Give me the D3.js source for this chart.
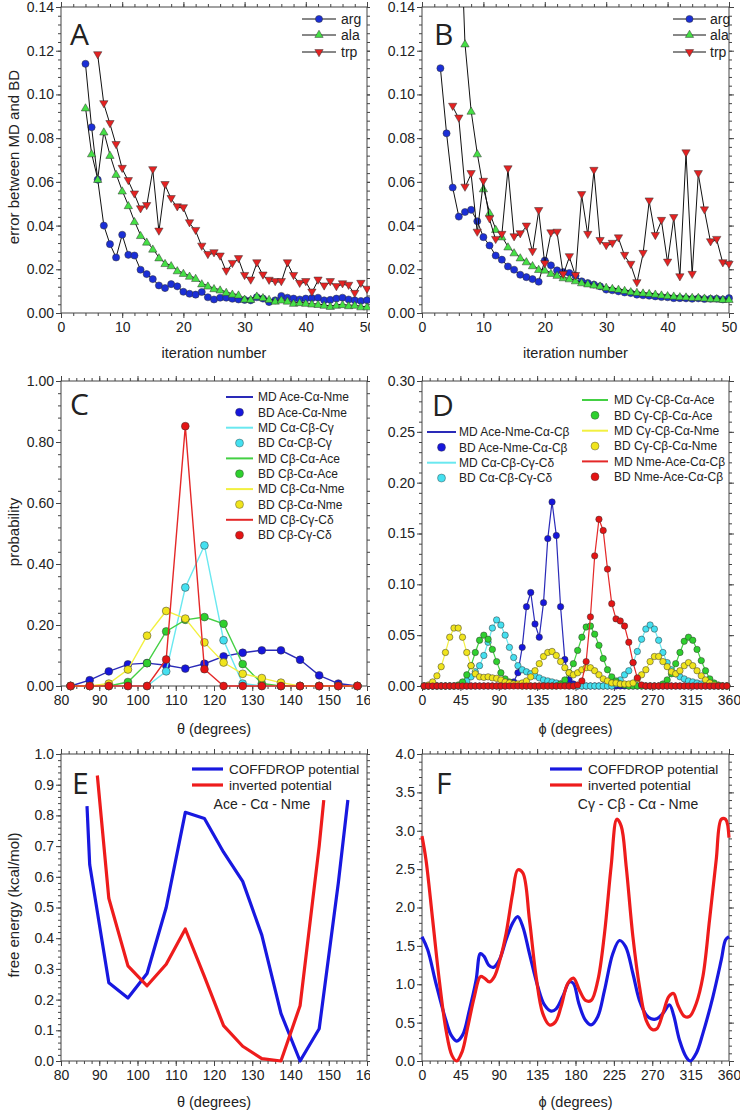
<!DOCTYPE html>
<html><head><meta charset="utf-8">
<script src="https://cdn.jsdelivr.net/npm/d3@7"></script>
<style>
body{margin:0;background:#fff}
svg{display:block}
text{font-family:"Liberation Sans",Arial,sans-serif;fill:#222}
</style>
</head><body>
<svg id="c" width="740" height="1112"></svg>
<script>
// ---------- Panel A / B : error vs iteration ----------
const iterTicks = [0, 10, 20, 30, 40, 50];
const errTicks = [0, 0.02, 0.04, 0.06, 0.08, 0.10, 0.12, 0.14];
const seriesNames = ["arg", "ala", "trp"];

const aArgStart = 4;
const aArg = [0.114,0.085,0.061,0.040,0.0315,0.0254,0.0358,0.0266,0.0263,0.0198,0.0178,0.0155,0.0126,0.0114,0.0132,0.0122,0.0097,0.0088,0.0084,0.0096,0.0072,0.0062,0.0070,0.0070,0.0065,0.0062,0.0060,0.0058,0.0072,0.0066,0.0050,0.0058,0.0078,0.0070,0.0066,0.0062,0.0066,0.0068,0.0070,0.0058,0.0060,0.0066,0.0070,0.0062,0.0058,0.0055,0.0058];
const aAlaStart = 4;
const aAla = [0.094,0.073,0.0613,0.083,0.0723,0.0636,0.056,0.0493,0.042,0.0356,0.0326,0.0294,0.0254,0.0228,0.0218,0.0195,0.0183,0.017,0.016,0.0135,0.0125,0.0113,0.0107,0.0096,0.0088,0.0084,0.0065,0.0064,0.0079,0.0072,0.0064,0.0056,0.0061,0.0056,0.0046,0.0049,0.0046,0.0043,0.0041,0.0037,0.0032,0.0037,0.004,0.0035,0.0037,0.003,0.003];
const aTrpStart = 6;
const aTrp = [0.118,0.0956,0.0865,0.0769,0.066,0.0604,0.0543,0.0475,0.049,0.0654,0.0373,0.0586,0.0522,0.0484,0.048,0.0411,0.0376,0.0304,0.0266,0.0274,0.0259,0.019,0.0225,0.0247,0.017,0.0149,0.0228,0.0172,0.0148,0.0142,0.0142,0.0228,0.017,0.0134,0.0142,0.0094,0.0149,0.0122,0.0142,0.0119,0.0132,0.0125,0.0088,0.0134,0.0107];

const bArgStart = 3;
const bArg = [0.112,0.0822,0.0574,0.0441,0.0462,0.0472,0.042,0.0347,0.0309,0.0263,0.0244,0.0213,0.0198,0.0175,0.0164,0.0155,0.0143,0.024,0.0218,0.0195,0.0187,0.0183,0.017,0.0145,0.0137,0.013,0.0122,0.0107,0.0104,0.0099,0.0094,0.0091,0.0084,0.0081,0.0079,0.0076,0.0073,0.0072,0.0068,0.0068,0.0067,0.0065,0.0067,0.0064,0.0065,0.0065,0.0062,0.0068];
const bAlaStart = 6;
const bAla = [0.20,0.1233,0.0925,0.073,0.057,0.046,0.0384,0.035,0.0304,0.0277,0.0254,0.0236,0.0218,0.0201,0.0198,0.0183,0.0174,0.0163,0.0158,0.0149,0.014,0.0135,0.013,0.0125,0.0119,0.0114,0.011,0.0105,0.0099,0.0096,0.0093,0.0091,0.0088,0.0084,0.0081,0.0079,0.0076,0.0075,0.0073,0.0073,0.007,0.0067,0.0067,0.0064,0.0064];
const bTrpStart = 5;
const bTrp = [0.0944,0.089,0.0574,0.0636,0.0368,0.0601,0.0429,0.0335,0.0358,0.0658,0.0347,0.0361,0.0396,0.0279,0.0467,0.0224,0.0365,0.0368,0.0175,0.0256,0.017,0.054,0.0358,0.0651,0.033,0.0307,0.0317,0.0342,0.0262,0.0221,0.0137,0.0271,0.0511,0.0353,0.0422,0.0231,0.0435,0.0164,0.0731,0.0175,0.0636,0.047,0.0324,0.0335,0.0228,0.0221];

// ---------- Panel C : bond angle distributions ----------
const thetaBins = [82.5,87.5,92.5,97.5,102.5,107.5,112.5,117.5,122.5,127.5,132.5,137.5,142.5,147.5,152.5,157.5];
const thetaTicks = [80,90,100,110,120,130,140,150,160];
const probTicks = [0,0.2,0.4,0.6,0.8,1.0];
const cNames = ["Ace-Cα-Nme","Cα-Cβ-Cγ","Cβ-Cα-Ace","Cβ-Cα-Nme","Cβ-Cγ-Cδ"];
const cBlue   = [0,0.019,0.048,0.071,0.075,0.068,0.057,0.073,0.097,0.109,0.117,0.117,0.086,0.035,0.008,0];
const cCyan   = [0,0,0,0,0,0.048,0.323,0.461,0.150,0.008,0,0,0,0,0,0];
const cGreen  = [0,0,0,0.013,0.075,0.179,0.217,0.226,0.204,0.072,0.008,0,0,0,0,0];
const cYellow = [0,0,0.008,0.054,0.165,0.246,0.221,0.143,0.077,0.040,0.026,0.011,0,0,0,0];
const cRed    = [0,0,0,0,0,0.087,0.852,0.055,0,0,0,0,0,0,0,0];

// ---------- Panel D : dihedral distributions ----------
const phiBins = [2.5,7.5,12.5,17.5,22.5,27.5,32.5,37.5,42.5,47.5,52.5,57.5,62.5,67.5,72.5,77.5,82.5,87.5,92.5,97.5,102.5,107.5,112.5,117.5,122.5,127.5,132.5,137.5,142.5,147.5,152.5,157.5,162.5,167.5,172.5,177.5,182.5,187.5,192.5,197.5,202.5,207.5,212.5,217.5,222.5,227.5,232.5,237.5,242.5,247.5,252.5,257.5,262.5,267.5,272.5,277.5,282.5,287.5,292.5,297.5,302.5,307.5,312.5,317.5,322.5,327.5,332.5,337.5,342.5,347.5,352.5,357.5];
const phiTicks = [0,45,90,135,180,225,270,315,360];
const dProbTicks = [0,0.05,0.10,0.15,0.20,0.25,0.30];
const dNames = ["Ace-Nme-Cα-Cβ","Cα-Cβ-Cγ-Cδ","Cγ-Cβ-Cα-Ace","Cγ-Cβ-Cα-Nme","Nme-Ace-Cα-Cβ"];
const dBlue = [0,0,0,0,0,0,0,0,0,0, 0,0,0,0,0,0,0,0,0,0, 0.001,0.004,0.013,0.038,0.078,0.092,0.061,0.048,0.082,0.145, 0.181,0.148,0.078,0.026,0.006,0.002,0,0,0,0, 0,0,0,0,0,0,0,0,0,0, 0,0,0,0,0,0,0,0,0,0, 0,0,0,0,0,0,0,0,0,0, 0,0];
const dCyan = [0,0,0,0,0,0,0,0,0,0.002, 0.005,0.009,0.014,0.020,0.030,0.043,0.057,0.065,0.060,0.050, 0.038,0.028,0.020,0.016,0.014,0.012,0.010,0.008,0.006,0.005, 0.004,0.003,0.002,0.001,0,0,0,0,0,0, 0,0,0,0,0,0.002,0.006,0.011,0.015,0.023, 0.034,0.046,0.056,0.060,0.056,0.045,0.033,0.023,0.016,0.012, 0.009,0.007,0.005,0.004,0.003,0.002,0.001,0,0,0, 0,0];
const dGreen = [0,0,0,0,0,0,0,0,0.001,0.004, 0.011,0.020,0.033,0.045,0.050,0.046,0.036,0.024,0.013,0.007, 0.004,0.002,0.001,0,0,0,0,0,0,0, 0,0,0.002,0.006,0.013,0.022,0.035,0.048,0.058,0.059, 0.051,0.040,0.027,0.016,0.009,0.005,0.002,0.001,0,0, 0,0,0,0,0,0,0.002,0.006,0.012,0.022, 0.033,0.044,0.048,0.045,0.036,0.025,0.015,0.007,0.003,0.001, 0,0];
const dYellow = [0,0.001,0.004,0.010,0.019,0.033,0.048,0.057,0.057,0.048, 0.033,0.020,0.012,0.009,0.0085,0.009,0.008,0.0075,0.006,0.004, 0.003,0.002,0.002,0.003,0.005,0.009,0.015,0.022,0.029,0.033, 0.034,0.030,0.024,0.018,0.013,0.011,0.013,0.016,0.018,0.018, 0.015,0.011,0.007,0.005,0.003,0.003,0.002,0.002,0.002,0.003, 0.007,0.011,0.016,0.024,0.029,0.029,0.024,0.019,0.014,0.012, 0.015,0.020,0.023,0.020,0.015,0.010,0.006,0.003,0.001,0, 0,0];
const dRed = [0,0,0,0,0,0,0,0,0,0, 0,0,0,0,0,0,0,0,0,0, 0,0,0,0,0,0,0,0,0,0, 0,0,0,0,0,0,0.001,0.005,0.024,0.068, 0.128,0.164,0.153,0.115,0.081,0.066,0.064,0.059,0.043,0.023, 0.008,0.001,0,0,0,0,0,0,0,0, 0,0,0,0,0,0,0,0,0,0, 0,0];

// ---------- Panel E : angle potential ----------
const energyTicksE = [0,0.1,0.2,0.3,0.4,0.5,0.6,0.7,0.8,0.9,1.0];
const eThetaBlue = [86.8,87.5,92.5,97.5,102.5,107.5,112.5,117.5,122.5,127.5,132.5,137.5,142.5,147.5,152.5,155.0];
const eBlue      = [0.83,0.64,0.255,0.205,0.285,0.50,0.81,0.79,0.68,0.585,0.41,0.155,0.0,0.105,0.58,0.85];
const eThetaRed  = [89.5,92.5,97.5,102.5,107.5,112.5,117.5,122.5,127.5,132.5,137.5,142.5,147.5,148.7];
const eRed       = [0.93,0.53,0.31,0.245,0.315,0.43,0.275,0.115,0.048,0.008,0.0,0.18,0.70,0.85];

// ---------- Panel F : dihedral potential ----------
const energyTicksF = [0,0.5,1.0,1.5,2.0,2.5,3.0,3.5,4.0];
const fPhiBlue = [0,6.7,16.4,28,34,40.7,47.7,55.5,63.4,68.5,73,78.2,83.7,90.8,98.6,106.4,112.3,118.2,126,135.8,143.6,151.4,157.3,165,172.9,177.6,183.9,191.7,198.4,206.2,214,223.8,231.6,238.7,247.3,255,263,268.8,275.4,282.5,290.3,295,302,309.9,314.6,321.6,329.4,341.2,351,356,360];
const fBlue = [1.62,1.45,1.01,0.53,0.34,0.26,0.34,0.66,1.05,1.40,1.36,1.25,1.22,1.32,1.58,1.80,1.88,1.75,1.40,0.97,0.73,0.65,0.68,0.84,1.03,1.01,0.75,0.53,0.47,0.58,0.92,1.40,1.57,1.49,1.14,0.79,0.60,0.55,0.55,0.62,0.73,0.60,0.27,0.05,0.0,0.10,0.36,0.84,1.32,1.58,1.62];
const fPhiRed = [0,4.7,12.5,20.3,28.2,35.2,40.7,47,53.6,61.4,68.5,73.2,79,84.9,91.5,98.6,106.4,112.3,118.2,126,133.8,141.6,149.5,156.5,163.1,170.9,177.6,184.7,191.7,198.4,206.2,214,221.8,228.5,233.6,239.4,247.3,255,262.9,270,275.4,282.5,289.5,295,300,307.9,313.8,321.6,329.4,337.2,345,351,356,360];
const fRed = [2.93,2.62,1.84,1.05,0.40,0.07,0.0,0.12,0.44,0.84,1.10,1.08,1.03,1.10,1.32,1.66,2.19,2.49,2.45,1.84,1.10,0.62,0.47,0.51,0.71,1.01,1.08,0.92,0.79,0.79,1.05,1.66,2.54,3.15,3.06,2.54,1.62,0.97,0.53,0.41,0.42,0.62,0.84,0.88,0.73,0.58,0.58,0.75,1.10,1.84,2.62,3.15,3.15,2.91];

// ================= drawing =================
const svg = d3.select("#c");
const defs = svg.append("defs");
function clip(id, x, y, w, h) {
  defs.append("clipPath").attr("id", id).append("rect")
    .attr("x", x).attr("y", y).attr("width", w).attr("height", h);
}
clip("leftHalf", 0, -20, 370, 1140);
clip("rightHalf", 370, -20, 370, 1140);

const FRAME = "#444";
const L = {x0: 61, x1: 367}, R = {x0: 422, x1: 729};
const ROW = [{y0: 7, y1: 313}, {y0: 381, y1: 686}, {y0: 754, y1: 1061}];

function minorVals(d, step) {
  const out = [];
  for (let v = d[0]; v <= d[1] + step * 1e-6; v += step) out.push(+v.toFixed(6));
  return out;
}

function panel(o) {
  const g = svg.append("g").attr("clip-path", `url(#${o.half})`);
  const x = d3.scaleLinear().domain(o.xd).range([o.x0, o.x1]);
  const y = d3.scaleLinear().domain(o.yd).range([o.y1, o.y0]);
  const ax = g.append("g");
  const add = (gen, tr) => {
    const a = ax.append("g").attr("transform", tr).call(gen);
    a.select(".domain").remove();
    a.selectAll("line").attr("stroke", FRAME).attr("stroke-width", 1);
    a.selectAll("text").style("font-size", "14px").attr("fill", "#222");
    return a;
  };
  const xm = minorVals(o.xd, o.xMinor), ym = minorVals(o.yd, o.yMinor);
  add(d3.axisBottom(x).tickValues(xm).tickSize(3).tickFormat(""), `translate(0,${o.y1})`);
  add(d3.axisTop(x).tickValues(xm).tickSize(3).tickFormat(""), `translate(0,${o.y0})`);
  add(d3.axisLeft(y).tickValues(ym).tickSize(3).tickFormat(""), `translate(${o.x0},0)`);
  add(d3.axisRight(y).tickValues(ym).tickSize(3).tickFormat(""), `translate(${o.x1},0)`);
  add(d3.axisBottom(x).tickValues(o.xt).tickSize(5).tickPadding(4).tickFormat(o.xf), `translate(0,${o.y1})`);
  add(d3.axisTop(x).tickValues(o.xt).tickSize(5).tickFormat(""), `translate(0,${o.y0})`);
  add(d3.axisLeft(y).tickValues(o.yt).tickSize(5).tickPadding(2).tickFormat(o.yf), `translate(${o.x0},0)`);
  add(d3.axisRight(y).tickValues(o.yt).tickSize(5).tickFormat(""), `translate(${o.x1},0)`);
  g.append("rect").attr("x", o.x0).attr("y", o.y0)
    .attr("width", o.x1 - o.x0).attr("height", o.y1 - o.y0)
    .attr("fill", "none").attr("stroke", FRAME).attr("stroke-width", 1);
  let data = g.append("g");
  if (o.clipData) {
    clip("pc" + o.name, o.x0 - 8, o.y0, o.x1 - o.x0 + 16, o.y1 - o.y0 + 8);
    data.attr("clip-path", `url(#pc${o.name})`);
  }
  g.append("text").attr("x", o.lx).attr("y", o.ly).text(o.name)
    .style("font-family", '"Open Sans","DejaVu Sans",sans-serif').style("font-size", "30px").attr("fill", "#111");
  g.append("text").attr("x", (o.x0 + o.x1) / 2).attr("y", o.xtY).attr("text-anchor", "middle")
    .style("font-size", "14.5px").text(o.xTitle);
  if (o.yTitle) {
    g.append("text").attr("transform", `translate(13,${o.ytY}) rotate(-90)`)
      .attr("text-anchor", "middle").attr("dominant-baseline", "central")
      .style("font-size", "15px").text(o.yTitle);
  }
  return {g, x, y, data};
}

const f2 = d3.format(".2f"), f1 = d3.format(".1f"), f0 = d3.format("d");

// ---------- A & B ----------
const markerCols = {arg: "#1b2fd6", ala: "#45e045", trp: "#e42222"};
const sym = {
  arg: d3.symbol().type(d3.symbolCircle).size(40),
  ala: d3.symbol().type(d3.symbolTriangle).size(30),
  trp: d3.symbol().type(d3.symbolTriangle).size(30)
};
function drawSeries(p, start, vals, key) {
  const pts = vals.map((v, i) => [start + i, v]);
  p.data.append("path").datum(pts)
    .attr("d", d3.line().x(d => p.x(d[0])).y(d => p.y(d[1])))
    .attr("fill", "none").attr("stroke", "#111").attr("stroke-width", 1);
  p.data.selectAll(null).data(pts).enter().append("path")
    .attr("d", sym[key]())
    .attr("transform", d => `translate(${p.x(d[0])},${p.y(d[1]) + (key === "ala" ? 1 : key === "trp" ? -1 : 0)})${key === "trp" ? " rotate(180)" : ""}`)
    .attr("fill", markerCols[key]).attr("stroke", "#333").attr("stroke-width", 0.5);
}
function iterLegend(p, lx0, lx1, tx, ys) {
  seriesNames.forEach((n, i) => {
    const yy = ys[i];
    p.g.append("line").attr("x1", lx0).attr("x2", lx1).attr("y1", yy).attr("y2", yy)
      .attr("stroke", "#111").attr("stroke-width", 1);
    p.g.append("path").attr("d", sym[n]())
      .attr("transform", `translate(${(lx0 + lx1) / 2},${yy})${n === "trp" ? " rotate(180)" : ""}`)
      .attr("fill", markerCols[n]).attr("stroke", "#333").attr("stroke-width", 0.5);
    p.g.append("text").attr("x", tx).attr("y", yy + 5).style("font-size", "14px").text(n);
  });
}

const pA = panel({name: "A", half: "leftHalf", x0: L.x0, x1: L.x1, ...ROW[0], xd: [0, 50], yd: [0, 0.14],
  xt: iterTicks, yt: errTicks, xf: f0, yf: f2, xMinor: 2, yMinor: 0.004,
  lx: 70, ly: 45, xTitle: "iteration number", xtY: 358, yTitle: "error between MD and BD", ytY: 157});
drawSeries(pA, aArgStart, aArg, "arg");
drawSeries(pA, aAlaStart, aAla, "ala");
drawSeries(pA, aTrpStart, aTrp, "trp");
iterLegend(pA, 302, 336, 341, [19, 35, 52]);

const pB = panel({name: "B", half: "rightHalf", x0: R.x0, x1: R.x1, ...ROW[0], xd: [0, 50], yd: [0, 0.14],
  xt: iterTicks, yt: errTicks, xf: f0, yf: f2, xMinor: 2, yMinor: 0.004, clipData: true,
  lx: 434, ly: 45, xTitle: "iteration number", xtY: 358});
drawSeries(pB, bArgStart, bArg, "arg");
drawSeries(pB, bAlaStart, bAla, "ala");
drawSeries(pB, bTrpStart, bTrp, "trp");
iterLegend(pB, 673, 706, 710, [19, 35, 52]);

// ---------- C & D ----------
const lineCols = ["#2a2ab8", "#6ae8f0", "#44d044", "#f2f040", "#e42828"];
const dotCols  = ["#1616dc", "#44e0f0", "#2ed02e", "#f0e41c", "#e41414"];

function distSeries(p, xs, vals, i, r, lw) {
  const pts = xs.map((xv, k) => [xv, vals[k]]);
  p.data.append("path").datum(pts)
    .attr("d", d3.line().x(d => p.x(d[0])).y(d => p.y(d[1])))
    .attr("fill", "none").attr("stroke", lineCols[i]).attr("stroke-width", lw);
  p.data.selectAll(null).data(pts).enter().append("circle")
    .attr("cx", d => p.x(d[0])).attr("cy", d => p.y(d[1])).attr("r", r)
    .attr("fill", dotCols[i]).attr("stroke", "#333").attr("stroke-width", 0.5);
}
function distLegend(p, names, idx, lx0, lx1, tx, y0, step) {
  names.forEach((n, k) => {
    const i = idx[k];
    const ya = y0 + step * 2 * k, yb = ya + step;
    p.g.append("line").attr("x1", lx0).attr("x2", lx1).attr("y1", ya).attr("y2", ya)
      .attr("stroke", lineCols[i]).attr("stroke-width", 2);
    p.g.append("text").attr("x", tx).attr("y", ya + 4.3).style("font-size", "12px").attr("fill", "#333").text("MD " + n);
    p.g.append("circle").attr("cx", (lx0 + lx1) / 2).attr("cy", yb).attr("r", 4)
      .attr("fill", dotCols[i]).attr("stroke", "#333").attr("stroke-width", 0.4);
    p.g.append("text").attr("x", tx).attr("y", yb + 4.3).style("font-size", "12px").attr("fill", "#333").text("BD " + n);
  });
}

const pC = panel({name: "C", half: "leftHalf", x0: L.x0, x1: L.x1, ...ROW[1], xd: [80, 160], yd: [0, 1],
  xt: thetaTicks, yt: probTicks, xf: f0, yf: f2, xMinor: 2, yMinor: 0.04,
  lx: 70, ly: 415, xTitle: "θ (degrees)", xtY: 734, yTitle: "probability", ytY: 532});
[cBlue, cCyan, cGreen, cYellow, cRed].forEach((v, i) => distSeries(pC, thetaBins, v, i, 3.9, 1.4));
distLegend(pC, cNames, [0, 1, 2, 3, 4], 226, 253, 258, 397, 15.35);

const pD = panel({name: "D", half: "rightHalf", x0: R.x0, x1: R.x1, ...ROW[1], xd: [0, 360], yd: [0, 0.3],
  xt: phiTicks, yt: dProbTicks, xf: f0, yf: f2, xMinor: 9, yMinor: 0.01,
  lx: 432, ly: 416, xTitle: "ϕ (degrees)", xtY: 734});
[dBlue, dCyan, dGreen, dYellow, dRed].forEach((v, i) => distSeries(pD, phiBins, v, i, 3.2, 1.2));
distLegend(pD, dNames.slice(0, 2), [0, 1], 427, 456, 459, 432, 15.35);
distLegend(pD, dNames.slice(2), [2, 3, 4], 582, 608, 614, 400, 15.35);

// ---------- E & F ----------
const potBlue = "#1818e0", potRed = "#ee1c1c";
function potLine(p, xs, ys, col, curve) {
  const pts = xs.map((xv, k) => [xv, ys[k]]);
  p.data.append("path").datum(pts)
    .attr("d", d3.line().curve(curve).x(d => p.x(d[0])).y(d => p.y(d[1])))
    .attr("fill", "none").attr("stroke", col).attr("stroke-width", 3.2).attr("stroke-linejoin", "round");
}
function potLegend(p, lx0, lx1, tx, label, labX) {
  [["COFFDROP potential", potBlue, 769], ["inverted potential", potRed, 785]].forEach(([t, c, yy]) => {
    p.g.append("line").attr("x1", lx0).attr("x2", lx1).attr("y1", yy).attr("y2", yy)
      .attr("stroke", c).attr("stroke-width", 3.2);
    p.g.append("text").attr("x", tx).attr("y", yy + 5).style("font-size", "13.5px").text(t);
  });
  p.g.append("text").attr("x", labX).attr("y", 809).attr("text-anchor", "middle")
    .style("font-size", "14px").text(label);
}

const pE = panel({name: "E", half: "leftHalf", x0: L.x0, x1: L.x1, ...ROW[2], xd: [80, 160], yd: [0, 1],
  xt: thetaTicks, yt: energyTicksE, xf: f0, yf: f1, xMinor: 2, yMinor: 0.02,
  lx: 72, ly: 794, xTitle: "θ (degrees)", xtY: 1107, yTitle: "free energy (kcal/mol)", ytY: 905});
potLine(pE, eThetaBlue, eBlue, potBlue, d3.curveLinear);
potLine(pE, eThetaRed, eRed, potRed, d3.curveLinear);
potLegend(pE, 192, 223, 229, "Ace - Cα - Nme", 262);

const pF = panel({name: "F", half: "rightHalf", x0: R.x0, x1: R.x1, ...ROW[2], xd: [0, 360], yd: [0, 4],
  xt: phiTicks, yt: energyTicksF, xf: f0, yf: f1, xMinor: 9, yMinor: 0.1,
  lx: 436, ly: 794, xTitle: "ϕ (degrees)", xtY: 1107});
potLine(pF, fPhiBlue, fBlue, potBlue, d3.curveCatmullRom.alpha(0.5));
potLine(pF, fPhiRed, fRed, potRed, d3.curveCatmullRom.alpha(0.5));
potLegend(pF, 550, 582, 588, "Cγ - Cβ - Cα - Nme", 638);
</script>
</body></html>
